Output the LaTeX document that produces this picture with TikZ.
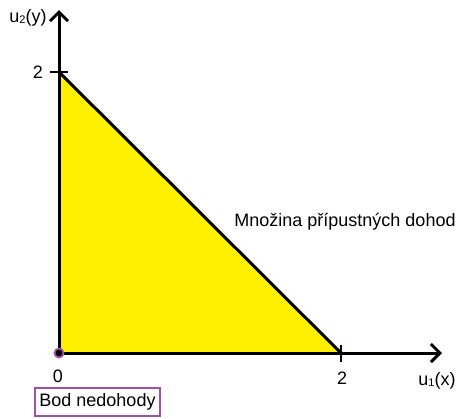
\documentclass[tikz,border=0pt]{standalone}
\usepackage{fontspec}
\setmainfont{Liberation Sans}
\usetikzlibrary{arrows.meta}
\definecolor{fillyel}{RGB}{255,240,0}
\definecolor{purp}{RGB}{160,80,170}
\begin{document}
\begin{tikzpicture}[x=1pt,y=-1pt,
  axis/.style={line width=3pt,-{Straight Barb[length=9pt,width=18pt,line width=3pt]}},
  lbl/.style={font=\fontsize{18}{21}\selectfont,inner sep=0pt},
  tickln/.style={line width=2.6pt}]
\useasboundingbox (0,0) rectangle (460,418);
\coordinate (O) at (59,353);
\coordinate (Y2) at (59,72);
\coordinate (X2) at (341,353);
\coordinate (Yend) at (59,10);
\coordinate (Xend) at (442,353);
\fill[fillyel] (O) -- (Y2) -- (X2) -- cycle;
\draw[line width=3pt] (Y2) -- (X2);
\draw[axis] (O) -- (Yend);
\draw[axis] (O) -- (Xend);
\draw[tickln] (50,72) -- (68,72);
\draw[tickln] (341,345) -- (341,362);
\draw[purp,line width=1.8pt,fill=black] (O) circle (4.5);
\node[lbl] (ylab) at (28,18) {u\raisebox{-0.5pt}{\fontsize{11}{12}\selectfont 2}(y)};
\node[lbl] (y2) at (38,72) {2};
\node[lbl] (x0) at (58,376) {0};
\node[lbl] (x2) at (342,378) {2};
\node[lbl] (xlab) at (437,381) {u\raisebox{-0.5pt}{\fontsize{11}{12}\selectfont 1}(x)};
\node[lbl] (mn) at (345,222) {Množina přípustných dohod};
\node[lbl,draw=purp,line width=2.2pt,minimum width=125pt,minimum height=28pt] (bod) at (97.5,402) {Bod nedohody};
\end{tikzpicture}
\end{document}
